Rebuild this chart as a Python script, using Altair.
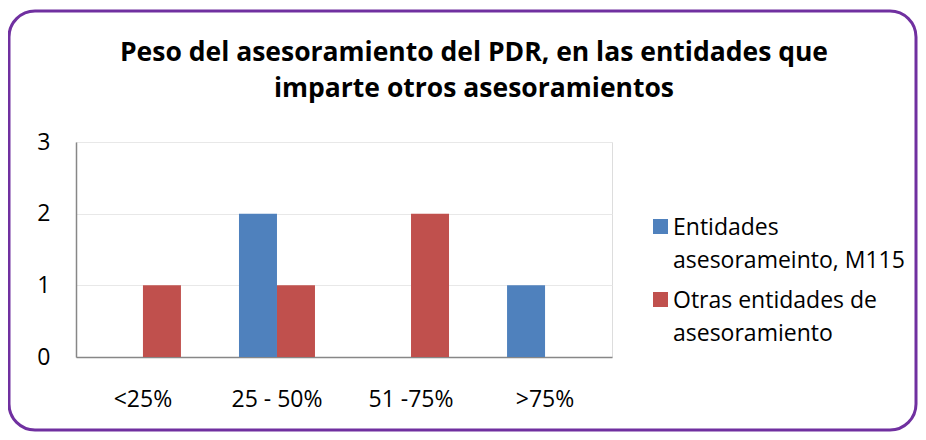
import altair as alt
import pandas as pd

categories = ["<25%", "25 - 50%", "51 -75%", ">75%"]
series = ["Entidades asesorameinto, M115", "Otras entidades de asesoramiento"]
m115_values = [0, 2, 0, 1]
otras_values = [1, 1, 2, 0]
colors = ["#4F81BD", "#C0504D"]
title_lines = ["Peso del asesoramiento del PDR, en las entidades  que",
               "imparte otros asesoramientos"]

rows = []
for c, a, b in zip(categories, m115_values, otras_values):
    rows.append({"cat": c, "serie": series[0], "valor": a})
    rows.append({"cat": c, "serie": series[1], "valor": b})
df = pd.DataFrame(rows)

FONT = "Open Sans"

bars = alt.Chart(df).mark_bar().encode(
    x=alt.X("cat:N", sort=categories, title=None,
            scale=alt.Scale(paddingInner=0.433, paddingOuter=0.216),
            axis=alt.Axis(labelAngle=0, labelFontSize=23, labelFont=FONT,
                          labelColor="#000000", labelPadding=41,
                          ticks=False, domainColor="#878787", domainWidth=1.5,
                          labelBaseline="top")),
    xOffset=alt.XOffset("serie:N", sort=series, scale=alt.Scale(paddingInner=0, paddingOuter=0)),
    y=alt.Y("valor:Q", title=None,
            scale=alt.Scale(domain=[0, 3], nice=False),
            axis=alt.Axis(values=[0, 1, 2, 3], format="d", labelFontSize=23,
                          labelFont=FONT, labelColor="#000000", labelPadding=26,
                          labelOffset=10,
                          ticks=False, domainColor="#878787", domainWidth=1.5,
                          gridColor="#E8E8E8", gridWidth=1)),
    color=alt.Color("serie:N", sort=series,
                    scale=alt.Scale(domain=series, range=colors),
                    legend=alt.Legend(
                        title=None, orient="none", legendX=573, legendY=73,
                        symbolType="square", symbolSize=225, symbolStrokeWidth=0,
                        labelFont=FONT, labelFontSize=23, labelColor="#000000",
                        labelOffset=1, labelLimit=400, rowPadding=15, padding=0,
                        labelBaseline="top",
                        labelExpr="datum.label == 'Entidades asesorameinto, M115' ? ['Entidades', 'asesorameinto, M115'] : ['Otras entidades de', 'asesoramiento']",
                    )),
)

frame = alt.Chart(alt.Data(values=[{"k": 1}])).mark_rect(
    fill=None, filled=False, stroke="#7030A0", strokeWidth=3, cornerRadius=26
).encode(
    x=alt.value(-67), x2=alt.value(840),
    y=alt.value(-131), y2=alt.value(288),
)

chart = alt.layer(frame, bars).properties(
    width=536, height=215,
    padding={"left": 68, "top": 134, "right": 306, "bottom": 75},
    autosize=alt.AutoSizeParams(type="none"),
    title=alt.TitleParams(text=title_lines, font=FONT, fontSize=26.5, fontWeight="bold",
                          color="#000000", anchor="middle", dx=130, dy=123, offset=30,
                          lineHeight=36),
).configure_view(stroke=None).configure(
    style={"guide-label": {"lineHeight": 33, "dy": -10}}
)

chart.save("out.html", embed_options={"renderer": "svg", "actions": False})
